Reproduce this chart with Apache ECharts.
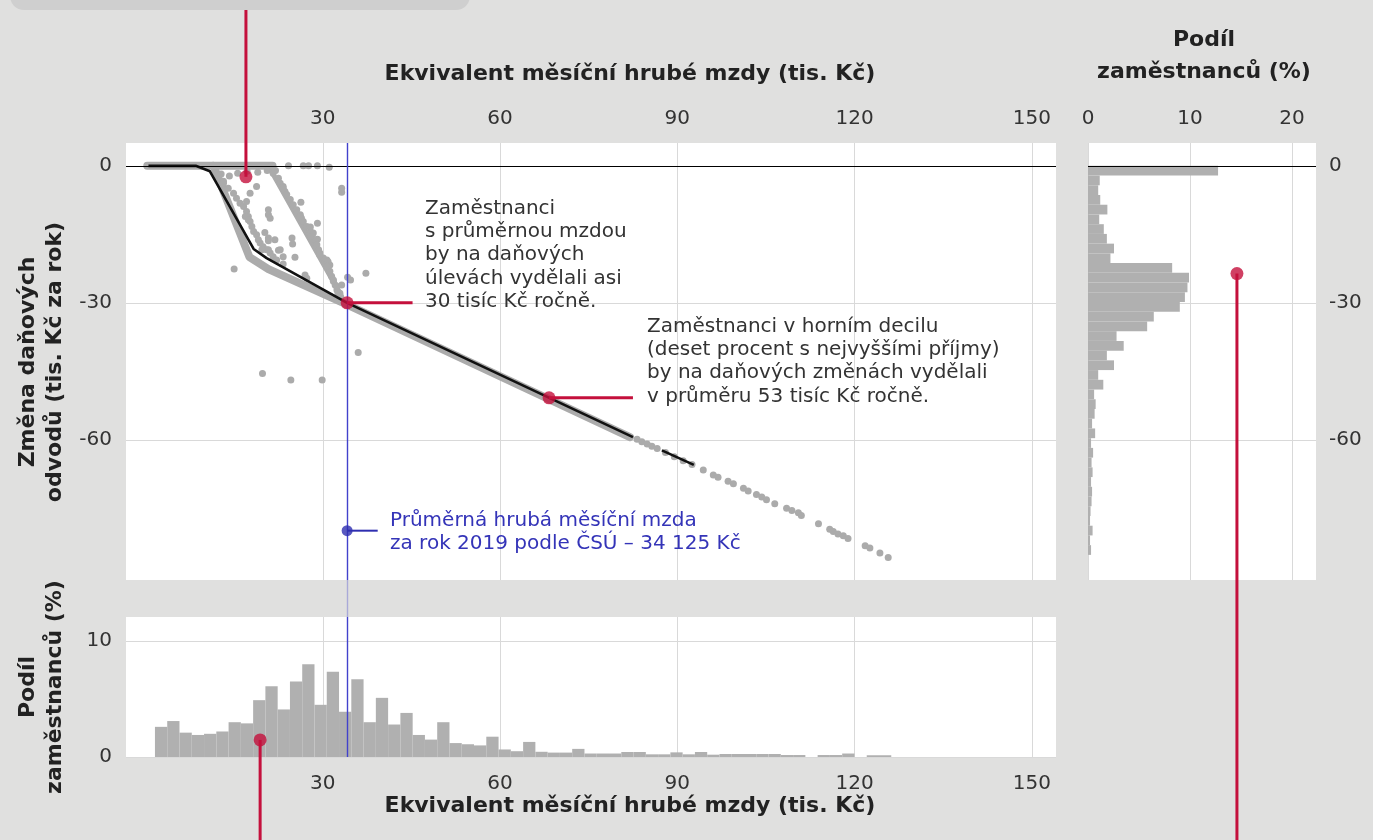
<!DOCTYPE html>
<html><head><meta charset="utf-8">
<script src="https://cdn.jsdelivr.net/npm/echarts@6/dist/echarts.min.js"></script>
<style>html,body{margin:0;padding:0;background:#e0e0df;} #c{width:1373px;height:840px;}</style>
</head><body><div id="c"></div>
<script>
// ---------- data ----------
const xTicks = [30, 60, 90, 120, 150];
const yTicks = [0, -30, -60];
const shareTicksRight = [0, 10, 20];
const shareTicksBottom = [0, 10];
const avgWage = 34.125;

// bottom histogram (share of employees by wage, 60 equal bins)
const bottomBinStart = 1.6, bottomBinWidth = 2.077;
const bottomShare = [2.6,3.1,2.1,1.9,2.0,2.2,3.0,2.9,4.9,6.1,4.1,6.5,8.0,4.5,7.35,3.9,6.7,3.0,5.1,2.8,
  3.8,1.9,1.5,3.0,1.2,1.1,1.0,1.75,0.65,0.5,1.3,0.45,0.38,0.38,0.7,0.3,0.3,0.3,0.43,0.43,
  0.23,0.23,0.4,0.23,0.43,0.2,0.26,0.26,0.26,0.26,0.26,0.17,0.17,0,0.17,0.17,0.3,0,0.15,0.15];

// right histogram (share of employees by tax change, 40 equal bins from 0 down)
const rightBinTop = 0, rightBinStep = 2.13;
const rightShare = [12.75,1.15,1.0,1.2,1.9,1.1,1.55,1.85,2.55,2.2,8.25,9.9,9.75,9.5,9.0,6.45,5.8,2.8,3.5,1.85,
  2.55,1.0,1.5,0.6,0.75,0.65,0.4,0.7,0.3,0.5,0.35,0.45,0.3,0.4,0.35,0.25,0.2,0.45,0.2,0.3];

// dense mass of employees (drawn as thick grey bands)
const massBand = [[0.3,0],[11.5,0],[12.0,-1.6],[17.6,-20.0],[20.8,-22.6],[34.125,-30.4],[82,-59.4]];
const massTop = [[11.5,0],[21.5,0]];
const massUpper = [[20.8,0],[33.2,-28.6]];

// individual employees (scatter)
const scatterPoints = [
  [13.2,-3.4],[14.0,-4.9],[14.9,-6.0],[15.4,-7.1],[16.0,-8.2],[16.6,-8.9],[17.1,-10.0],[17.4,-11.1],
  [17.7,-12.2],[18.0,-13.3],[18.3,-14.4],[18.8,-15.1],[19.1,-16.2],[19.4,-16.9],[19.9,-17.7],[20.5,-18.4],
  [21.1,-19.1],[21.6,-19.9],[22.2,-20.6],
  [12.8,-1.8],[14.2,-2.2],[15.6,-1.6],[17.2,-1.2],[19.0,-1.4],[20.6,-1.0],[22.0,-1.0],
  [13.2,-3.8],[17.7,-6.0],[18.8,-4.5],[17.1,-7.8],[20.8,-9.6],[20.8,-10.7],[21.1,-11.5],[16.9,-11.1],
  [17.4,-11.8],[20.2,-14.6],[20.8,-15.8],[21.9,-16.2],[20.8,-16.4],[20.8,-18.4],[22.5,-18.5],[19.7,-18.4],
  [22.8,-18.4],[23.3,-19.9],[24.8,-15.8],[24.9,-17.1],[25.3,-20.0],[23.3,-21.5],[26.3,-8.0],[29.1,-12.6],
  [29.1,-16.1],[27.0,-23.9],[27.3,-24.6],
  [24.2,0],[26.7,0],[27.6,0],[29.1,0],[31.1,-0.3],
  [33.2,-4.9],[33.2,-5.8],[34.2,-24.4],[34.7,-25.0],[37.3,-23.5],
  [15.0,-22.6],[19.8,-45.5],[24.6,-46.9],[29.9,-46.9],[36.0,-40.9],
  [21.6,-1.6],[22.5,-2.7],[22.8,-3.8],[23.3,-4.5],[23.6,-5.6],[23.9,-6.3],[24.5,-7.4],[25.0,-8.5],
  [25.6,-9.6],[26.2,-10.7],[26.4,-11.5],[26.7,-12.2],[27.3,-13.3],[27.9,-14.4],[28.1,-15.5],[28.7,-16.2],
  [29.0,-17.3],[29.3,-18.4],[29.5,-19.1],[30.1,-20.2],[30.4,-21.3],[30.7,-20.6],[30.9,-22.0],[31.2,-23.1],
  [31.5,-24.2],[31.8,-25.3],[32.1,-26.1],[32.4,-27.2],[32.6,-27.9],[27.9,-13.4],[28.4,-14.7],[30.9,-21.0],
  [31.2,-21.7],[23.3,-4.9],[26.2,-11.1],[27.9,-15.5],[29.5,-19.5],[30.7,-22.0],[31.8,-25.0],[32.4,-26.4],
  [32.9,-27.9],[33.2,-26.1],
  [83.2,-59.9],[84.0,-60.4],[84.9,-60.9],[85.7,-61.4],[86.6,-61.9],[88.0,-62.8],[89.5,-63.7],[91.0,-64.6],[92.5,-65.4],
  [94.4,-66.6],[96.1,-67.7],[96.9,-68.2],[98.6,-69.1],[99.5,-69.6],[101.2,-70.6],[102.0,-71.2],[103.4,-72.0],
  [104.3,-72.5],[105.1,-73.1],[106.5,-74.0],[108.5,-75.0],[109.4,-75.5],[110.5,-76.0],[111.0,-76.6],[113.9,-78.4],
  [115.8,-79.6],[116.4,-80.1],[117.2,-80.6],[118.1,-81.0],[118.9,-81.6],[121.8,-83.2],[122.6,-83.7],[124.3,-84.8],[125.7,-85.8]
];

// median line (black), with a gap
const medianLineA = [[0.5,0],[8.5,0],[10.9,-1.2],[18.3,-18.2],[20.5,-20.2],[34.125,-30],[82.5,-59.4]];
const medianLineB = [[87.4,-62.3],[92.8,-65.5]];

// callout anchors
const lowPoint = [17.0, -2.4];
const avgPoint = [34.125, -30];
const decilePoint = [68.3, -50.8];
const csuPoint = [34.125, -79.9];
const rightSharePoint = [14.6, -23.6];
const bottomSharePoint = [19.4, 1.47];

const avgText = 'Zaměstnanci\ns průměrnou mzdou\nby na daňových\núlevách vydělali asi\n30 tisíc Kč ročně.';
const decileText = 'Zaměstnanci v horním decilu\n(deset procent s nejvyššími příjmy)\nby na daňových změnách vydělali\nv průměru 53 tisíc Kč ročně.';
const csuText = 'Průměrná hrubá měsíční mzda\nza rok 2019 podle ČSÚ – 34 125 Kč';
const xTitle = 'Ekvivalent měsíční hrubé mzdy (tis. Kč)';

// ---------- chart ----------
const FONT = '"DejaVu Sans", sans-serif';
const TXT = '#333333';
const GRID_C = '#d9d9d9';
const BAR_C = '#b0b0b0';
const DOT_C = '#ababab';
const RED = '#c4103c';
const BLUE = '#4242cc';
const lbl = {color: TXT, fontSize: 20, fontFamily: FONT};
const split = {show: true, lineStyle: {color: GRID_C, width: 1}};

const bottomData = bottomShare.map((h, i) => [bottomBinStart + i * bottomBinWidth, bottomBinStart + (i + 1) * bottomBinWidth, h]);
const rightData = rightShare.map((w, i) => [rightBinTop - i * rightBinStep, rightBinTop - (i + 1) * rightBinStep, w]);

const chart = echarts.init(document.getElementById('c'), null, {renderer: 'canvas'});
const option = {
  backgroundColor: '#e0e0df',
  animation: false,
  grid: [
    {left: 126, top: 143, width: 930, height: 437, show: true, backgroundColor: '#ffffff', borderWidth: 0},
    {left: 126, top: 617, width: 930, height: 140, show: true, backgroundColor: '#ffffff', borderWidth: 0},
    {left: 1088, top: 143, width: 228, height: 437, show: true, backgroundColor: '#ffffff', borderWidth: 0},
    {left: 126, top: 580, width: 930, height: 37, show: false}
  ],
  xAxis: [
    {gridIndex: 0, type: 'value', position: 'top', min: -3.3, max: 154.1,
      axisLine: {show: false}, axisTick: {show: false, customValues: xTicks},
      axisLabel: Object.assign({margin: 14, customValues: xTicks}, lbl), splitLine: split},
    {gridIndex: 1, type: 'value', position: 'bottom', min: -3.3, max: 154.1,
      axisLine: {show: false}, axisTick: {show: false, customValues: xTicks},
      axisLabel: Object.assign({margin: 17, customValues: xTicks}, lbl), splitLine: split},
    {gridIndex: 2, type: 'value', position: 'top', min: 0, max: 22.35,
      axisLine: {show: false}, axisTick: {show: false, customValues: shareTicksRight},
      axisLabel: Object.assign({margin: 14, customValues: shareTicksRight}, lbl), splitLine: split},
    {gridIndex: 3, type: 'value', min: -3.3, max: 154.1, show: false}
  ],
  yAxis: [
    {gridIndex: 0, type: 'value', min: -90.7, max: 5,
      axisLine: {show: false}, axisTick: {show: false, customValues: yTicks},
      axisLabel: Object.assign({margin: 14, customValues: yTicks}, lbl), splitLine: split},
    {gridIndex: 1, type: 'value', min: 0, max: 12.07,
      axisLine: {show: false}, axisTick: {show: false, customValues: shareTicksBottom},
      axisLabel: Object.assign({margin: 14, customValues: shareTicksBottom}, lbl), splitLine: split},
    {gridIndex: 2, type: 'value', position: 'right', min: -90.7, max: 5,
      axisLine: {show: false}, axisTick: {show: false, customValues: yTicks},
      axisLabel: Object.assign({margin: 13, customValues: yTicks}, lbl), splitLine: split},
    {gridIndex: 3, type: 'value', min: 0, max: 1, show: false}
  ],
  series: [
    {type: 'line', xAxisIndex: 0, yAxisIndex: 0, data: [], z: 1,
      markLine: {silent: true, symbol: 'none', label: {show: false}, lineStyle: {color: '#000', width: 1.2, type: 'solid'}, data: [{yAxis: 0}]}},
    {type: 'line', xAxisIndex: 0, yAxisIndex: 0, data: massBand, symbol: 'none', z: 2,
      lineStyle: {color: DOT_C, width: 8, cap: 'round', join: 'round'}},
    {type: 'line', xAxisIndex: 0, yAxisIndex: 0, data: massTop, symbol: 'none', z: 2,
      lineStyle: {color: DOT_C, width: 8, cap: 'round', join: 'round'}},
    {type: 'line', xAxisIndex: 0, yAxisIndex: 0, data: massUpper, symbol: 'none', z: 2,
      lineStyle: {color: DOT_C, width: 5, cap: 'round', join: 'round'}},
    {type: 'scatter', xAxisIndex: 0, yAxisIndex: 0, data: scatterPoints, symbolSize: 7, z: 3,
      itemStyle: {color: DOT_C, opacity: 1}},
    {type: 'line', xAxisIndex: 0, yAxisIndex: 0, data: medianLineA, symbol: 'none', z: 4,
      lineStyle: {color: '#111', width: 2.6, join: 'round'}},
    {type: 'line', xAxisIndex: 0, yAxisIndex: 0, data: medianLineB, symbol: 'none', z: 4,
      lineStyle: {color: '#111', width: 2.6, join: 'round'}},
    {type: 'line', xAxisIndex: 0, yAxisIndex: 0, data: [], z: 5,
      markLine: {silent: true, symbol: 'none', label: {show: false}, lineStyle: {color: BLUE, width: 1.4, type: 'solid'}, data: [{xAxis: avgWage}]}},
    {type: 'scatter', xAxisIndex: 0, yAxisIndex: 0, data: [lowPoint, avgPoint, decilePoint], symbolSize: 13, z: 8,
      itemStyle: {color: RED}},
    {type: 'scatter', xAxisIndex: 0, yAxisIndex: 0, data: [csuPoint], symbolSize: 11, z: 8,
      itemStyle: {color: '#2e2eb0'}},
    // bottom histogram
    {type: 'custom', xAxisIndex: 1, yAxisIndex: 1, data: bottomData, z: 2,
      encode: {x: [0, 1], y: 2},
      renderItem: function (params, api) {
        const p0 = api.coord([api.value(0), api.value(2)]);
        const p1 = api.coord([api.value(1), 0]);
        return {type: 'rect', shape: {x: p0[0], y: p0[1], width: p1[0] - p0[0], height: p1[1] - p0[1]}, style: {fill: BAR_C}};
      }},
    {type: 'line', xAxisIndex: 1, yAxisIndex: 1, data: [], z: 5,
      markLine: {silent: true, symbol: 'none', label: {show: false}, lineStyle: {color: BLUE, width: 1.4, type: 'solid'}, data: [{xAxis: avgWage}]}},
    {type: 'scatter', xAxisIndex: 1, yAxisIndex: 1, data: [bottomSharePoint], symbolSize: 13, z: 8, itemStyle: {color: RED}},
    // right histogram
    {type: 'line', xAxisIndex: 2, yAxisIndex: 2, data: [], z: 1,
      markLine: {silent: true, symbol: 'none', label: {show: false}, lineStyle: {color: '#000', width: 1.2, type: 'solid'}, data: [{yAxis: 0}]}},
    {type: 'custom', xAxisIndex: 2, yAxisIndex: 2, data: rightData, z: 2,
      encode: {y: [0, 1], x: 2},
      renderItem: function (params, api) {
        const p0 = api.coord([0, api.value(0)]);
        const p1 = api.coord([api.value(2), api.value(1)]);
        return {type: 'rect', shape: {x: p0[0], y: p0[1], width: p1[0] - p0[0], height: p1[1] - p0[1]}, style: {fill: BAR_C}};
      }},
    {type: 'scatter', xAxisIndex: 2, yAxisIndex: 2, data: [rightSharePoint], symbolSize: 13, z: 8, itemStyle: {color: RED}},
    // gap segment of the average-wage line
    {type: 'line', xAxisIndex: 3, yAxisIndex: 3, data: [], z: 5,
      markLine: {silent: true, symbol: 'none', label: {show: false}, lineStyle: {color: '#a9a9d8', width: 1.4, type: 'solid'}, data: [{xAxis: avgWage}]}}
  ]
};
chart.setOption(option);

function px(g, pt) { return chart.convertToPixel({gridIndex: g}, pt); }
const bold = 'bold 22px ' + FONT;
const reg = '20px ' + FONT;
function redLine(a, b) {
  return {type: 'line', z: 50, shape: {x1: a[0], y1: a[1], x2: b[0], y2: b[1]}, style: {stroke: RED, lineWidth: 3}};
}
const pLow = px(0, lowPoint), pAvg = px(0, avgPoint), pDec = px(0, decilePoint), pCsu = px(0, csuPoint);
const pRight = px(2, rightSharePoint), pBottom = px(1, bottomSharePoint);
const graphics = [
  {type: 'rect', z: 40, shape: {x: 10, y: -30, width: 460, height: 40, r: 14}, style: {fill: '#cfcfcf'}},
  redLine(pLow, [pLow[0], 10]),
  redLine(pAvg, px(0, [45.2, avgPoint[1]])),
  redLine(pDec, px(0, [82.5, decilePoint[1]])),
  {type: 'line', z: 50, shape: {x1: pCsu[0], y1: pCsu[1], x2: px(0, [39.3, csuPoint[1]])[0], y2: pCsu[1]}, style: {stroke: '#2e2eb0', lineWidth: 2}},
  redLine(pRight, [pRight[0], 840]),
  redLine(pBottom, [pBottom[0], 840]),
  {type: 'text', z: 60, x: 425, y: 197, style: {text: avgText, font: reg, fill: TXT, lineHeight: 23.3, align: 'left', verticalAlign: 'top'}},
  {type: 'text', z: 60, x: 647, y: 315, style: {text: decileText, font: reg, fill: TXT, lineHeight: 23.3, align: 'left', verticalAlign: 'top'}},
  {type: 'text', z: 60, x: 390, y: 509, style: {text: csuText, font: reg, fill: '#3434b8', lineHeight: 23.5, align: 'left', verticalAlign: 'top'}},
  {type: 'text', z: 60, x: 630, y: 74, style: {text: xTitle, font: bold, fill: '#222', align: 'center', verticalAlign: 'middle'}},
  {type: 'text', z: 60, x: 630, y: 806, style: {text: xTitle, font: bold, fill: '#222', align: 'center', verticalAlign: 'middle'}},
  {type: 'text', z: 60, x: 1204, y: 40, style: {text: 'Podíl', font: bold, fill: '#222', align: 'center', verticalAlign: 'middle'}},
  {type: 'text', z: 60, x: 1204, y: 72, style: {text: 'zaměstnanců (%)', font: bold, fill: '#222', align: 'center', verticalAlign: 'middle'}},
  {type: 'text', z: 60, x: 28, y: 362, rotation: Math.PI / 2, style: {text: 'Změna daňových', font: bold, fill: '#222', align: 'center', verticalAlign: 'middle'}},
  {type: 'text', z: 60, x: 55, y: 362, rotation: Math.PI / 2, style: {text: 'odvodů (tis. Kč za rok)', font: bold, fill: '#222', align: 'center', verticalAlign: 'middle'}},
  {type: 'text', z: 60, x: 28, y: 687, rotation: Math.PI / 2, style: {text: 'Podíl', font: bold, fill: '#222', align: 'center', verticalAlign: 'middle'}},
  {type: 'text', z: 60, x: 55, y: 687, rotation: Math.PI / 2, style: {text: 'zaměstnanců (%)', font: bold, fill: '#222', align: 'center', verticalAlign: 'middle'}}
];
chart.setOption({graphic: graphics});
</script>
</body></html>
